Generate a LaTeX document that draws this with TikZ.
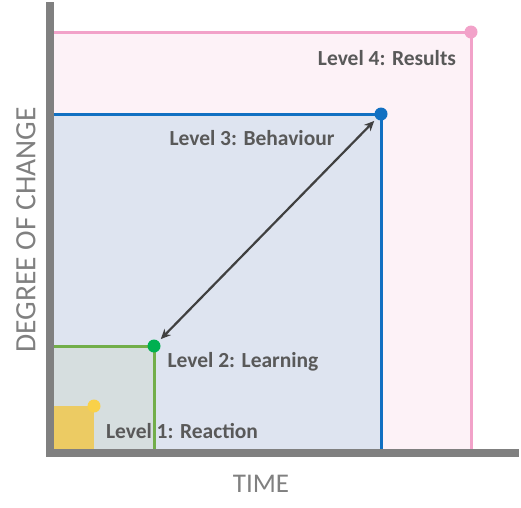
\documentclass[tikz,border=0pt]{standalone}
\usepackage{fontspec}
\setmainfont{Carlito}
\usetikzlibrary{arrows.meta}
\definecolor{axisgray}{HTML}{808080}
\definecolor{pinkline}{HTML}{F2A2C9}
\definecolor{pinkfill}{HTML}{FDF2F7}
\definecolor{blueline}{HTML}{1170C2}
\definecolor{bluefill}{HTML}{DEE4F0}
\definecolor{greenline}{HTML}{72AE4A}
\definecolor{greenfill}{HTML}{D6DEDF}
\definecolor{greendot}{HTML}{00B050}
\definecolor{yellowfill}{HTML}{ECCB63}
\definecolor{yellowdot}{HTML}{F9D149}
\definecolor{labelgray}{HTML}{595959}
\definecolor{arrowgray}{HTML}{404040}
\tikzset{
  lvl/.style={font=\bfseries\fontsize{21.5}{24}\selectfont, text=labelgray, inner sep=0pt},
  axlabel/.style={font=\fontsize{27}{30}\selectfont, text=axisgray, inner sep=0pt},
  dot/.style={circle, inner sep=0pt, minimum size=13pt},
}
\begin{document}
\begin{tikzpicture}[x=1pt,y=-1pt]
\useasboundingbox (0,0) rectangle (521,507);
% fills
\fill[pinkfill] (54,32) rectangle (471,449);
\fill[bluefill] (54,114) rectangle (381,449);
\fill[greenfill] (54,346) rectangle (154,449);
\fill[yellowfill] (54,406) rectangle (94,449);
% borders
\draw[pinkline, line width=3pt] (54,32) -- (471,32) -- (471,449);
\draw[blueline, line width=3pt] (54,114) -- (381,114) -- (381,449);
\draw[greenline, line width=3pt] (54,346) -- (154,346) -- (154,449);
% dots
\node[dot, fill=pinkline] (d4) at (471,32) {};
\node[dot, fill=blueline] (d3) at (381,114) {};
\node[dot, fill=greendot] (d2) at (154,346) {};
\node[dot, fill=yellowdot] (d1) at (94,406) {};
% axes
\fill[axisgray] (46,2) rectangle (54,457);
\fill[axisgray] (46,449) rectangle (519,457);
% arrow
\draw[arrowgray, line width=2.2pt, {Stealth[length=10pt,width=9pt]}-{Stealth[length=10pt,width=9pt]}, shorten <=3pt, shorten >=3pt] (d2) -- (d3);
% labels
\node[lvl] (l4) at (387,58) {Level 4: Results};
\node[lvl] (l3) at (252,138) {Level 3: Behaviour};
\node[lvl] (l2) at (243,362) {Level 2: Learning};
\node[lvl] (l1) at (182,431) {Level 1: Reaction};
\node[axlabel] (tx) at (261,484) {TIME};
\node[axlabel, font=\fontsize{29.5}{32}\selectfont, rotate=90] (ty) at (26,230) {DEGREE OF CHANGE};
\end{tikzpicture}
\end{document}
